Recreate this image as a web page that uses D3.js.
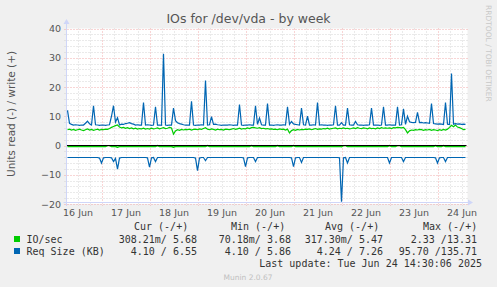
<!DOCTYPE html>
<html><head><meta charset="utf-8">
<script src="https://cdn.jsdelivr.net/npm/d3@7"></script>
<style>
html,body{margin:0;padding:0;background:#f0f0f0;}
svg{display:block;}
</style></head><body>
<svg id="chart" width="497" height="287"></svg>
<script>
const title = "IOs for /dev/vda - by week";
const yLabel = "Units read (-) / write (+)";
const yTicks = [-20, -10, 0, 10, 20, 30, 40];
const startISO = "2025-06-16T06:30:00Z";
const endISO = "2025-06-24T14:30:00Z";
const firstSampleISO = "2025-06-16T07:00:00Z"; // hourly samples

// IO/sec write (+)
const ioWrite = [
5.4,5.6,5.3,5.5,5.2,5.4,5.6,5.3,5.1,5.4,5.7,5.3,5.5,5.2,5.4,5.6,5.3,5.5,5.4,5.6,
5.5,5.8,6.2,6.5,6.8,7.0,6.3,6.0,6.2,5.9,6.1,5.8,6.0,5.7,5.9,5.6,5.8,5.7,5.9,5.6,
5.8,5.6,5.9,5.7,5.8,6.0,5.7,5.9,6.1,5.8,5.9,6.2,6.0,3.9,5.0,5.4,5.2,5.5,5.3,5.5,
5.4,5.6,5.3,5.5,5.6,5.4,5.7,5.5,5.8,6.1,5.6,5.4,5.7,5.5,5.3,5.6,5.4,5.5,5.3,5.6,
5.5,5.4,5.6,5.8,5.5,5.7,5.9,5.6,5.8,5.7,6.0,5.8,6.1,6.2,6.0,5.9,6.1,5.8,5.9,5.7,
5.8,5.6,5.7,5.5,5.6,5.4,5.7,5.5,5.6,5.3,5.6,4.3,5.1,5.4,5.2,5.5,5.3,5.5,5.4,5.6,
5.5,5.7,5.4,5.6,5.8,5.5,5.7,5.6,5.8,5.7,5.9,5.6,5.8,5.9,6.0,5.7,5.9,5.8,6.0,5.8,
5.9,5.7,5.8,6.0,5.8,6.1,5.9,5.8,6.0,5.9,5.7,6.0,5.8,5.9,5.7,6.0,5.8,6.1,5.9,6.0,
5.9,6.0,5.8,6.1,6.0,6.2,6.1,6.0,6.2,5.4,4.3,5.0,5.3,5.2,5.4,5.3,5.5,5.4,5.2,5.4,
5.3,5.5,5.2,5.4,5.3,5.1,5.4,5.2,5.5,5.3,5.6,6.2,6.9,6.4,7.0,6.3,6.1,5.8,5.4,5.5
];
// IO/sec read (-)
const ioRead = [
-0.33,-0.32,-0.34,-0.33,-0.32,-0.33,-0.34,-0.33,-0.32,-0.33,-0.33,-0.34,-0.32,-0.33,-0.33,-0.32,-0.34,-0.33,-0.33,-0.32,
-0.03,-0.03,-0.33,-0.40,-0.35,-0.60,-0.38,-0.33,-0.32,-0.33,-0.34,-0.33,-0.32,-0.33,-0.33,-0.34,-0.33,-0.32,-0.33,-0.33,
-0.33,-0.34,-0.32,-0.33,-0.33,-0.03,-0.33,-0.34,-0.33,-0.32,-0.33,-0.33,-0.34,-0.60,-0.36,-0.33,-0.32,-0.33,-0.34,-0.33,
-0.32,-0.33,-0.33,-0.34,-0.33,-0.40,-0.33,-0.32,-0.33,-0.35,-0.03,-0.33,-0.34,-0.33,-0.32,-0.33,-0.33,-0.34,-0.33,-0.32,
-0.33,-0.33,-0.34,-0.33,-0.32,-0.33,-0.33,-0.34,-0.33,-0.38,-0.33,-0.32,-0.03,-0.33,-0.35,-0.33,-0.34,-0.33,-0.32,-0.33,
-0.33,-0.34,-0.33,-0.32,-0.33,-0.03,-0.33,-0.34,-0.33,-0.32,-0.33,-0.33,-0.34,-0.03,-0.33,-0.32,-0.33,-0.36,-0.33,-0.34,
-0.33,-0.32,-0.33,-0.33,-0.34,-0.33,-0.32,-0.33,-0.33,-0.34,-0.33,-0.32,-0.33,-0.33,-0.34,-0.33,-0.32,-0.45,-0.03,-0.03,
-0.35,-0.33,-0.34,-0.33,-0.32,-0.33,-0.33,-0.34,-0.33,-0.32,-0.33,-0.33,-0.34,-0.33,-0.32,-0.33,-0.33,-0.34,-0.33,-0.32,
-0.33,-0.03,-0.33,-0.34,-0.33,-0.03,-0.03,-0.33,-0.35,-0.33,-0.32,-0.33,-0.33,-0.34,-0.33,-0.32,-0.33,-0.33,-0.34,-0.33,
-0.32,-0.33,-0.33,-0.34,-0.03,-0.35,-0.33,-0.32,-0.03,-0.36,-0.33,-0.33,-0.34,-0.33,-0.32,-0.33,-0.33,-0.34,-0.33,-0.32
];
// Req Size (KB) write (+)
const reqWrite = [
12.0,7.6,7.2,7.0,7.1,7.0,6.9,7.0,7.0,7.6,8.3,7.4,7.0,13.6,7.1,7.0,6.9,7.0,7.0,6.9,
7.0,7.1,10.0,13.6,8.0,9.5,7.0,7.3,7.2,7.5,7.6,7.8,7.5,7.3,7.0,7.1,7.0,7.0,14.7,7.0,
7.1,7.0,6.9,7.0,13.2,7.0,7.0,6.9,31.4,7.0,6.9,7.0,7.0,12.8,8.5,7.8,7.5,7.3,7.1,7.0,
7.0,7.0,15.1,7.0,6.9,7.0,7.0,7.1,7.0,22.2,7.0,7.1,9.9,7.2,7.3,7.1,7.0,6.9,7.0,7.0,
7.0,7.1,7.0,6.9,7.0,7.0,14.0,7.0,6.9,7.0,7.0,7.1,7.0,7.0,13.6,7.2,9.4,7.1,7.0,7.0,
14.3,7.0,7.0,6.9,7.0,7.1,7.0,7.0,7.1,7.0,13.2,7.2,8.2,7.4,7.2,7.1,7.0,12.8,7.1,7.0,
10.0,7.0,7.0,7.1,7.0,14.7,7.0,7.1,7.0,7.0,6.9,7.0,7.0,7.1,13.6,7.0,7.0,7.8,7.0,7.0,
12.8,7.1,7.0,7.0,8.2,7.1,7.0,7.0,6.9,7.0,7.0,7.1,12.8,7.0,7.0,7.0,6.9,7.0,13.2,7.0,
7.0,7.1,7.0,7.0,7.0,13.2,7.0,7.1,12.5,7.2,10.0,8.1,7.9,7.8,7.9,11.3,7.8,7.9,7.7,7.8,
7.7,7.6,14.3,7.5,7.4,7.3,7.4,7.3,7.2,14.7,7.3,7.2,24.6,7.3,7.5,7.3,7.4,7.2,7.3,7.2
];
// Req Size (KB) read (-)
const reqRead = [
-4.1,-4.1,-4.1,-4.1,-4.1,-4.1,-4.1,-4.1,-4.1,-4.1,-4.1,-4.1,-4.1,-4.1,-4.1,-4.1,-4.3,-6.0,-4.2,-4.1,
-4.1,-4.1,-4.2,-5.5,-4.4,-8.1,-4.3,-4.1,-4.1,-4.1,-4.1,-4.1,-4.1,-4.1,-4.1,-4.1,-4.1,-4.1,-4.1,-4.1,
-4.2,-7.4,-4.2,-4.1,-5.5,-4.1,-4.1,-4.1,-4.1,-4.1,-4.1,-4.1,-4.1,-4.1,-4.1,-4.1,-4.1,-4.1,-4.1,-4.1,
-4.1,-4.1,-4.1,-4.1,-4.3,-8.6,-4.3,-4.1,-4.1,-5.2,-4.1,-4.1,-4.1,-4.1,-4.1,-4.1,-4.1,-4.1,-4.1,-4.1,
-4.1,-4.1,-4.1,-4.1,-4.1,-4.1,-4.1,-4.1,-4.2,-7.2,-4.2,-4.1,-4.1,-4.1,-5.5,-4.1,-4.1,-4.1,-4.1,-4.1,
-4.1,-4.1,-4.1,-4.1,-4.1,-4.1,-4.1,-4.1,-4.1,-4.1,-4.1,-4.1,-4.2,-7.2,-4.2,-4.1,-4.1,-5.8,-4.1,-4.1,
-4.1,-4.1,-4.1,-4.1,-4.1,-4.1,-4.1,-4.1,-4.1,-4.1,-4.1,-4.1,-4.1,-4.1,-4.1,-4.1,-4.2,-19.2,-4.2,-4.1,
-6.0,-4.1,-4.1,-4.1,-4.1,-4.1,-4.1,-4.1,-4.1,-4.1,-4.1,-4.1,-4.1,-4.1,-4.1,-4.1,-4.1,-4.1,-4.1,-4.1,
-4.1,-6.0,-4.1,-4.1,-4.1,-4.1,-4.1,-4.1,-5.5,-4.1,-4.1,-4.1,-4.1,-4.1,-4.1,-4.1,-4.1,-4.1,-4.1,-4.1,
-4.1,-4.1,-4.1,-4.1,-4.2,-6.0,-4.2,-4.1,-4.1,-5.5,-4.1,-4.1,-4.1,-4.1,-4.1,-4.1,-4.1,-4.1,-4.1,-4.1
];

const legendHeaders = ["Cur (-/+)", "Min (-/+)", "Avg (-/+)", "Max (-/+)"];
const seriesNames = ["IO/sec", "Req Size (KB)"];
const ioStats = ["308.21m/ 5.68", "70.18m/ 3.68", "317.30m/ 5.47", "2.33 /13.31"];
const reqStats = ["4.10 / 6.55", "4.10 / 5.86", "4.24 / 7.26", "95.70 /135.71"];
const lastUpdate = "Last update: Tue Jun 24 14:30:06 2025";
const footer = "Munin 2.0.67";
const watermark = "RRDTOOL / TOBI OETIKER";
const colorIO = "#00cc00", colorReq = "#0066b3";

const svg = d3.select("#chart");
const W = 497, H = 287;
const X0 = 66.5, X1 = 466.5, YT = 28.5, YB = 204;
const x = d3.scaleUtc().domain([new Date(startISO), new Date(endISO)]).range([X0, X1]);
const y = d3.scaleLinear().domain([-20, 40]).range([YB, YT]);
const t0 = +new Date(firstSampleISO);
const times = ioWrite.map((_, i) => new Date(t0 + i * 3600e3));

svg.append("rect").attr("width", W).attr("height", H).attr("fill", "#f0f0f0");
svg.append("rect").attr("x", X0).attr("y", YT).attr("width", X1 - X0 + 1).attr("height", YB - YT).attr("fill", "#ffffff");

const grid = svg.append("g");
const minorCol = "#d4d4d4", majorCol = "#f0aaaa";
// minor vertical grid (6h)
const minorT = d3.utcHour.every(6).range(x.domain()[0], x.domain()[1]).filter(d => d.getUTCHours() !== 0);
grid.selectAll(".vmin").data(minorT).join("line")
  .attr("x1", d => Math.round(x(d)) + 0.5).attr("x2", d => Math.round(x(d)) + 0.5)
  .attr("y1", YT).attr("y2", YB + 2)
  .attr("stroke", minorCol).attr("stroke-dasharray", "1,2");
// minor horizontal grid
const minorY = d3.range(-18, 40, 2).filter(v => v % 10 !== 0);
grid.selectAll(".hmin").data(minorY).join("line")
  .attr("x1", X0 - 2).attr("x2", X1 + 1)
  .attr("y1", d => Math.round(y(d)) + 0.5).attr("y2", d => Math.round(y(d)) + 0.5)
  .attr("stroke", minorCol).attr("stroke-dasharray", "1,2");
// major vertical grid (days)
const majorT = d3.utcDay.range(x.domain()[0], x.domain()[1]);
grid.selectAll(".vmaj").data(majorT).join("line")
  .attr("x1", d => Math.round(x(d)) + 0.5).attr("x2", d => Math.round(x(d)) + 0.5)
  .attr("y1", YT).attr("y2", YB + 2)
  .attr("stroke", majorCol).attr("stroke-dasharray", "1,2");
// major horizontal grid
grid.selectAll(".hmaj").data(yTicks).join("line")
  .attr("x1", X0 - 2).attr("x2", X1 + 1)
  .attr("y1", d => Math.round(y(d)) + 0.5).attr("y2", d => Math.round(y(d)) + 0.5)
  .attr("stroke", majorCol).attr("stroke-dasharray", "1,2");

// series
const line = d3.line().x((d, i) => x(times[i])).y(d => y(d));
const plot = svg.append("g");
plot.append("path").attr("d", line(ioRead)).attr("fill", "none").attr("stroke", colorIO).attr("stroke-width", 1.4);
plot.append("path").attr("d", line(ioWrite)).attr("fill", "none").attr("stroke", colorIO).attr("stroke-width", 1.2);
plot.append("path").attr("d", line(reqRead)).attr("fill", "none").attr("stroke", colorReq).attr("stroke-width", 1.2);
plot.append("path").attr("d", line(reqWrite)).attr("fill", "none").attr("stroke", colorReq).attr("stroke-width", 1.2);
// zero line
svg.append("line").attr("x1", X0).attr("x2", X1).attr("y1", y(0)).attr("y2", y(0))
  .attr("stroke", "#000").attr("stroke-width", 1);

// axes lines + arrows
const axisCol = "#cfd6f8";
svg.append("line").attr("x1", X0).attr("x2", X0).attr("y1", YB + 2).attr("y2", 22).attr("stroke", axisCol);
svg.append("line").attr("x1", X0 - 3).attr("x2", 469).attr("y1", YB - 1.5).attr("y2", YB - 1.5).attr("stroke", axisCol);
svg.append("path").attr("d", `M${X0 - 3},${24}L${X0 + 3},${24}L${X0},${19}Z`).attr("fill", axisCol);
svg.append("path").attr("d", `M${468},${YB - 4.5}L${468},${YB + 1.5}L${473},${YB - 1.5}Z`).attr("fill", axisCol);

// x axis labels (centered at noon)
const noonT = majorT.map(d => d3.utcHour.offset(d, 12)).filter(d => x(d) <= X1 + 5);
const firstNoon = d3.utcHour.offset(d3.utcDay.floor(x.domain()[0]), 12);
if (x(firstNoon) >= X0) noonT.unshift(firstNoon);
const xAxis = svg.append("g").attr("transform", `translate(0,${YB})`)
  .call(d3.axisBottom(x).tickValues(noonT).tickFormat(d3.utcFormat("%d %b")).tickSize(0));
xAxis.select(".domain").remove();
xAxis.selectAll("text").attr("y", 12).attr("dy", 0)
  .attr("font-family", "DejaVu Sans").attr("font-size", 9.5).attr("fill", "#555");

const yAxis = svg.append("g").attr("transform", `translate(61,0)`)
  .call(d3.axisLeft(y).tickValues(yTicks).tickSize(0).tickPadding(0));
yAxis.select(".domain").remove();
yAxis.selectAll("text").attr("dy", "0.34em")
  .attr("font-family", "DejaVu Sans").attr("font-size", 9.5).attr("fill", "#555");

// title & labels
svg.append("text").attr("x", 248.5).attr("y", 23).attr("text-anchor", "middle")
  .attr("font-family", "DejaVu Sans").attr("font-size", 12.5).attr("fill", "#555").text(title);
svg.append("text").attr("transform", "translate(15,114) rotate(-90)").attr("text-anchor", "middle")
  .attr("font-family", "DejaVu Sans").attr("font-size", 10.5).attr("fill", "#555").text(yLabel);
svg.append("text").attr("transform", "translate(486,5) rotate(90)").attr("text-anchor", "start")
  .attr("font-family", "DejaVu Sans").attr("font-size", 7.5).attr("fill", "#c8c8c8").text(watermark);

// legend
const mono = "DejaVu Sans Mono";
const lg = svg.append("g").attr("font-family", mono).attr("font-size", 10).attr("fill", "#333");
const headerX = [134, 231, 325, 423];
const valEnd = [197, 291, 383, 477];
lg.selectAll(".hdr").data(legendHeaders).join("text")
  .attr("x", (d, i) => headerX[i]).attr("y", 230).text(d => d).style("white-space", "pre");
const rows = [{name: seriesNames[0], color: colorIO, stats: ioStats, y: 243},
              {name: seriesNames[1], color: colorReq, stats: reqStats, y: 255}];
rows.forEach(r => {
  lg.append("rect").attr("x", 14).attr("y", r.y - 7).attr("width", 6).attr("height", 6).attr("fill", r.color);
  lg.append("text").attr("x", 26.5).attr("y", r.y).text(r.name).style("white-space", "pre");
  r.stats.forEach((s, i) => {
    lg.append("text").attr("x", valEnd[i]).attr("y", r.y).attr("text-anchor", "end").style("white-space", "pre").text(s);
  });
});
lg.append("text").attr("x", 482).attr("y", 267).attr("text-anchor", "end").style("white-space", "pre").text(lastUpdate);
svg.append("text").attr("x", 248).attr("y", 280).attr("text-anchor", "middle")
  .attr("font-family", "DejaVu Sans").attr("font-size", 7.5).attr("fill", "#c0c0c0").text(footer);
</script>
</body></html>
